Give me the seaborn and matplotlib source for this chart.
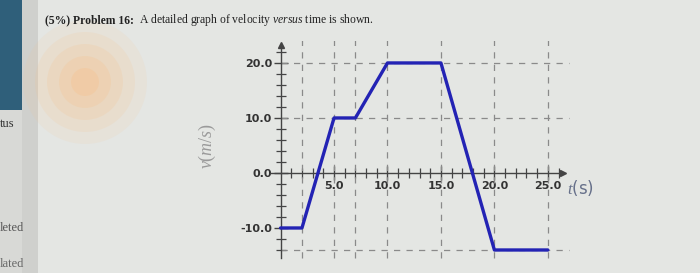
import numpy as np
import pandas as pd
import matplotlib
matplotlib.use("Agg")
import matplotlib.pyplot as plt
from matplotlib.ticker import FixedLocator, FormatStrFormatter
from matplotlib.patches import Rectangle, Ellipse
import seaborn as sns

# ---- data ----
times = [0, 2, 5, 7, 10, 15, 20, 25]
velocity = [-10, -10, 10, 10, 20, 20, -14, -14]
x_ticks = [5, 10, 15, 20, 25]
y_ticks = [-10, 0, 10, 20]
x_minor = list(range(1, 27))
y_minor = list(range(-14, 23, 2))
title_bold = "(5%) Problem 16:"
title_rest = r"A detailed graph of velocity $\mathit{versus}$ time is shown."

sns.set_theme(style="white")
plt.rcParams["font.family"] = ["DejaVu Sans"]
plt.rcParams["axes.unicode_minus"] = False
plt.rcParams["mathtext.fontset"] = "custom"
plt.rcParams["mathtext.rm"] = "Liberation Serif"
plt.rcParams["mathtext.it"] = "Liberation Serif:italic"

W, H = 700, 273
bg = "#e4e6e3"
fig = plt.figure(figsize=(7.0, 2.73), dpi=100, facecolor=bg)

# ---- background decorations (photo of a screen) ----
def rect(x, y, w, h, c):
    fig.patches.append(Rectangle((x / W, 1 - (y + h) / H), w / W, h / H, transform=fig.transFigure,
                                 facecolor=c, edgecolor="none", zorder=0))

rect(0, 0, 22, H, "#d8d9d6")
rect(0, 0, 22, 110, "#2f5f7a")
rect(22, 0, 16, H, "#cfd0cd")
for r, a in [(62, 0.10), (50, 0.14), (38, 0.18), (26, 0.22), (14, 0.3)]:
    fig.patches.append(Ellipse((85 / W, 1 - 82 / H), 2 * r / W, 2 * r / H, transform=fig.transFigure,
                               facecolor="#f8c088", edgecolor="none", alpha=a, zorder=0))
fig.text(0, 1 - 124 / H, "tus", family="Liberation Serif", fontsize=9, color="#333", va="center")
fig.text(0, 1 - 228 / H, "leted", family="Liberation Serif", fontsize=9, color="#555", va="center")
fig.text(0, 1 - 264 / H, "lated", family="Liberation Serif", fontsize=9, color="#666", va="center")

# title
t1 = fig.text(45 / W, 1 - 20 / H, title_bold, family="Liberation Serif", fontweight="bold",
              fontsize=8.4, color="#222", va="center")
fig.canvas.draw()
bb = t1.get_window_extent()
fig.text((bb.x1 + 5) / W, 1 - 20 / H, title_rest, family="Liberation Serif",
         fontsize=8.4, color="#222", va="center")

# ---- chart ----
ax = fig.add_axes([0.355, 0.044, 0.504, 0.806])
ax.set_facecolor("none")
ax.set_xlim(-3, 30)
ax.set_ylim(-16, 24)

vmin = min(velocity)
for t in sorted(set(times) - {0}):
    ax.plot([t, t], [vmin - 1.5, 24.7], ls=(0, (5, 5)), color="#8a8a8a", lw=0.9, zorder=1)
for v in sorted(set(velocity) - {-10}):
    ax.plot([0, 27], [v, v], ls=(0, (5, 5)), color="#8a8a8a", lw=0.9, zorder=1)

df = pd.DataFrame({"t": times, "v": velocity})
sns.lineplot(data=df, x="t", y="v", ax=ax, color="#2323b4", lw=2.4, sort=False,
             estimator=None, zorder=3)

for s in ["top", "right"]:
    ax.spines[s].set_visible(False)
ax.spines["left"].set_position(("data", 0))
ax.spines["bottom"].set_position(("data", 0))
ax.spines["left"].set_bounds(vmin - 1.5, 23.3)
ax.spines["bottom"].set_bounds(-1, 26.4)
for s in ["left", "bottom"]:
    ax.spines[s].set_color("#444")
    ax.spines[s].set_linewidth(1.0)
ax.plot(0, 23.3, marker="^", color="#444", ms=5, clip_on=False)
ax.plot(26.4, 0, marker=">", color="#444", ms=5, clip_on=False)

ax.xaxis.set_major_locator(FixedLocator(x_ticks))
ax.xaxis.set_minor_locator(FixedLocator(x_minor))
ax.yaxis.set_major_locator(FixedLocator(y_ticks))
ax.yaxis.set_minor_locator(FixedLocator(y_minor))
ax.xaxis.set_major_formatter(FormatStrFormatter("%.1f"))
ax.yaxis.set_major_formatter(FormatStrFormatter("%.1f"))
ax.tick_params(axis="both", which="major", direction="inout", length=10, width=1.0,
               color="#444", labelsize=8, labelcolor="#333", pad=1)
ax.tick_params(axis="both", which="minor", direction="inout", length=7, width=0.9, color="#444")
ax.tick_params(axis="x", which="both", bottom=True)
ax.tick_params(axis="y", which="both", left=True)
for lab in ax.get_xticklabels() + ax.get_yticklabels():
    lab.set_fontweight("bold")
ax.set_xlabel("")
ax.set_ylabel("")

ax.text(-6.8, 5, r"$v(m/s)$", rotation=90, fontsize=13, color="#9a9a9a",
        ha="center", va="center")
ax.text(26.8, -2.8, r"$t$(s)", fontsize=12, color="#66708a", ha="left", va="center")

fig.savefig("out.png", dpi=100, facecolor=bg)
